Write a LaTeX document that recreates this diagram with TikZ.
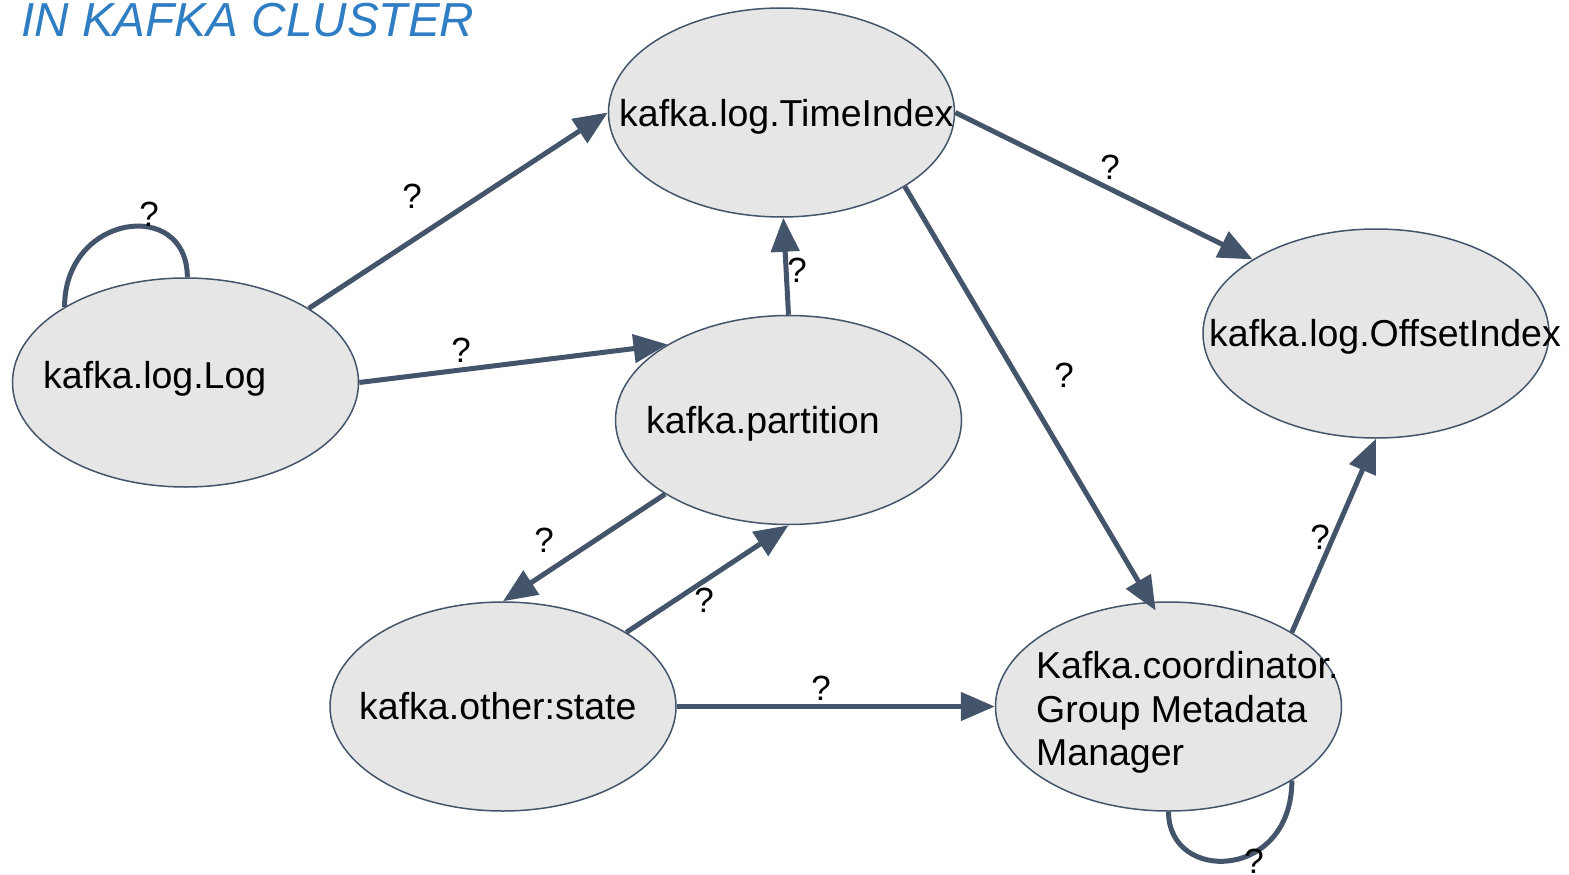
\documentclass[tikz,border=0pt]{standalone}
\usepackage{fontspec}
\setmainfont{Liberation Sans}
\usetikzlibrary{arrows.meta,shapes.geometric}
\definecolor{edgec}{HTML}{44546A}
\definecolor{fillc}{HTML}{E6E6E6}
\definecolor{titlec}{HTML}{2F7EC4}
\begin{document}
\begin{tikzpicture}[x=1pt,y=-1pt,
 ell/.style={ellipse, draw=edgec, line width=1.5pt, fill=fillc, inner sep=0pt, minimum width=346pt, minimum height=209pt},
 lbl/.style={font=\fontsize{37.5}{44}\selectfont, anchor=base west, inner sep=0pt},
 qm/.style={font=\fontsize{35}{40}\selectfont, inner sep=0pt},
 conn/.style={draw=edgec, line width=5pt, -{Triangle[length=34pt,width=28pt]}},
 loopc/.style={draw=edgec, line width=5pt}]
\clip (0,0) rectangle (1569,875);
\fill[white] (0,0) rectangle (1569,875);
% title
\node[font=\fontsize{47.7}{56}\selectfont\itshape, text=titlec, anchor=base west, inner sep=0pt] (title) at (21,37) {IN KAFKA CLUSTER};
% ellipses
\node[ell] (log) at (185.5,382.5) {};
\node[ell] (ti) at (781.5,112.5) {};
\node[ell] (oi) at (1376,333.5) {};
\node[ell] (part) at (788.5,420) {};
\node[ell] (st) at (503,706.5) {};
\node[ell] (co) at (1168.5,706.5) {};
% texts
\node[lbl] (logt) at (43,388) {kafka.log.Log};
\node[lbl] (tit) at (619,126) {kafka.log.TimeIndex};
\node[lbl] (oit) at (1209,346.5) {kafka.log.OffsetIndex};
\node[lbl] (partt) at (646,433) {kafka.partition};
\node[lbl] (stt) at (359,719) {kafka.other:state};
\node[lbl] (cot1) at (1036,678) {Kafka.coordinator.};
\node[lbl] (cot2) at (1036,722) {Group Metadata};
\node[lbl] (cot3) at (1036,765) {Manager};
% connectors
\draw[conn] (log.31.6) -- (ti.180);
\draw[conn] (log.0.5) -- (part.148.7);
\draw[loopc] (log.148.7) .. controls +(0,-93) and +(0,-80) .. (log.89);
\draw[conn] (part.90) -- (ti.-89);
\draw[conn] (ti.0) -- (oi.149);
\draw[conn] (ti.-31.1) -- ([yshift=-9pt]co.97.5);
\draw[conn] (part.211) -- (st.90);
\draw[conn] (st.31.6) -- (part.-90.5);
\draw[conn] (st.0) -- (co.180);
\draw[conn] (co.31) -- (oi.-90);
\draw[loopc] (co.-90) .. controls +(0,72) and +(0,100) .. (co.-31.4);
% labels
\node[qm] (q1) at (412,196) {?};
\node[qm] (q2) at (461,350) {?};
\node[qm] (q3) at (149,214) {?};
\node[qm] (q4) at (797,270) {?};
\node[qm] (q5) at (1110,167) {?};
\node[qm] (q6) at (1064,375) {?};
\node[qm] (q7) at (544,540) {?};
\node[qm] (q8) at (704,600) {?};
\node[qm] (q9) at (821,688) {?};
\node[qm] (q10) at (1320,537) {?};
\node[qm] (q11) at (1254,861) {?};
\end{tikzpicture}
\end{document}
